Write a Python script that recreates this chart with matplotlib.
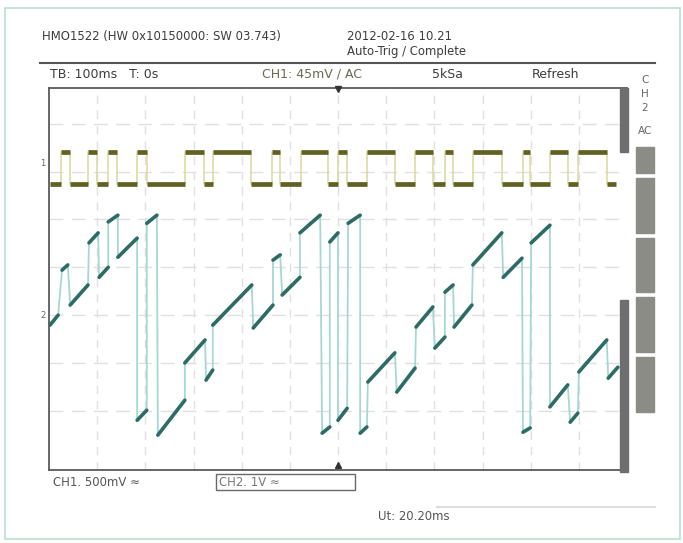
import matplotlib.pyplot as plt
from matplotlib.patches import Rectangle
import numpy as np

W, H = 683, 543

# CH1 square wave: toggle times (ms), starts low
ch1_toggles = [-576, -556, -518, -501, -477, -459, -417, -397, -318, -278,
               -259, -181, -138, -120, -77, -21, 0, 19, 60, 118,
               160, 197, 222, 239, 280, 341, 384, 399, 440, 478, 498, 558]
ch1_t_start, ch1_t_end = -598, 578
ch1_offset = 3.18          # div
ch1_high, ch1_low = 0.23, -0.44   # div relative to ch1 offset

# CH2 ramp pieces: (t0, v0, t1, v1) in ms / V (1 V/div)
ch2_pieces = [
    (-598, -0.21, -581, 0.00), (-573, 0.94, -561, 1.05), (-556, 0.21, -519, 0.63),
    (-517, 1.51, -498, 1.72), (-496, 0.79, -477, 1.00), (-477, 1.95, -457, 2.09),
    (-457, 1.21, -417, 1.61), (-417, -2.20, -397, -1.99), (-397, 1.92, -376, 2.09),
    (-374, -2.51, -318, -1.78), (-318, -1.00, -276, -0.52), (-274, -1.36, -260, -1.15),
    (-260, -0.21, -179, 0.63), (-176, -0.27, -135, 0.21), (-135, 1.15, -120, 1.26),
    (-116, 0.42, -79, 0.79), (-79, 1.72, -37, 2.09), (-33, -2.47, -17, -2.34),
    (-17, 1.53, 0, 1.72), (0, -2.20, 19, -1.95), (21, 1.92, 46, 2.09),
    (46, -2.47, 60, -2.34), (62, -1.40, 118, -0.79), (122, -1.61, 160, -1.11),
    (162, -0.25, 197, 0.17), (201, -0.69, 222, -0.46), (222, 0.48, 239, 0.63),
    (241, -0.25, 278, 0.21), (280, 1.05, 340, 1.72), (343, 0.79, 382, 1.19),
    (384, -2.45, 399, -2.36), (401, 1.51, 440, 1.88), (440, -1.92, 477, -1.46),
    (482, -2.24, 498, -2.05), (500, -1.19, 558, -0.52), (561, -1.32, 581, -1.09),
]

grid_t = [-500, -400, -300, -200, -100, 0, 100, 200, 300, 400, 500]
grid_v = [-2, -1, 0, 1, 2, 3, 4]

plt.rcParams['font.family'] = ['DejaVu Sans']


def fx(x):
    return x / W


def fy(y):
    return 1 - y / H


fig = plt.figure(figsize=(W / 100, H / 100), dpi=100)
fig.patch.set_facecolor('white')

# outer frame
fig.patches.append(Rectangle((fx(5), fy(539)), fx(675), 531 / H, transform=fig.transFigure,
                             fill=False, edgecolor='#b9e0cc', lw=1.2))

ax = fig.add_axes([fx(49), fy(470), fx(578), 382 / H])
ax.set_xlim(-600, 600)
ax.set_ylim(-3.24, 4.75)
ax.set_xticks([])
ax.set_yticks([])
for s in ['top', 'left', 'bottom']:
    ax.spines[s].set_color('#5a5a5a')
    ax.spines[s].set_linewidth(1.3)
ax.spines['right'].set_visible(False)

# grid
for t in grid_t:
    ax.axvline(t, color='#e0e0e0', lw=1.0, dashes=(6, 5), zorder=0)
for v in grid_v:
    ax.axhline(v, color='#e0e0e0', lw=1.0, dashes=(10, 6), zorder=0)

# CH1 trace
edges = [ch1_t_start] + ch1_toggles + [ch1_t_end]
for i in range(len(edges) - 1):
    lvl = ch1_high if i % 2 == 1 else ch1_low
    ax.plot([edges[i], edges[i + 1]], [ch1_offset + lvl] * 2,
            color='#626124', lw=3.4, solid_capstyle='butt', zorder=3)
for t in ch1_toggles:
    ax.plot([t, t], [ch1_offset + ch1_low, ch1_offset + ch1_high],
            color='#d9d89c', lw=1.1, zorder=2)

# CH2 trace
path_t, path_v = [], []
for t0, v0, t1, v1 in ch2_pieces:
    path_t += [t0, t1]
    path_v += [v0, v1]
ax.plot(path_t, path_v, color='#a6d8d3', lw=1.3, zorder=2)
for t0, v0, t1, v1 in ch2_pieces:
    ax.plot([t0, t1], [v0, v1], color='#2c6c65', lw=2.6, solid_capstyle='round', zorder=3)

# trigger markers
ax.plot([0], [4.72], marker='v', color='#333333', ms=5, clip_on=False, zorder=5)
ax.plot([0], [-3.13], marker='^', color='#333333', ms=5, clip_on=False, zorder=5)

# right scroll bar
fig.patches.append(Rectangle((fx(620), fy(152)), 8 / W, 64 / H, transform=fig.transFigure,
                             color='#6e6e6e'))
fig.patches.append(Rectangle((fx(620), fy(472)), 8 / W, 172 / H, transform=fig.transFigure,
                             color='#6e6e6e'))

# right panel
for i, ch in enumerate(['C', 'H', '2']):
    fig.text(fx(645), fy(80 + 14 * i), ch, fontsize=7.5, color='#666666', ha='center', va='center')
fig.text(fx(645), fy(131), 'AC', fontsize=7.5, color='#666666', ha='center', va='center')
for y0, y1 in [(147, 173), (178, 233), (238, 292), (297, 352), (357, 412)]:
    fig.patches.append(Rectangle((fx(636), fy(y1)), 18 / W, (y1 - y0) / H,
                                 transform=fig.transFigure, color='#8c8c86'))

# channel markers
fig.text(fx(43), fy(163), '1', fontsize=6, color='#666666', ha='center', va='center')
fig.text(fx(43), fy(315), '2', fontsize=6, color='#666666', ha='center', va='center')

# header
hc = '#3c3c3c'
fig.text(fx(42), fy(36), 'HMO1522 (HW 0x10150000: SW 03.743)', fontsize=8.4, color=hc, va='center')
fig.text(fx(347), fy(36), '2012-02-16 10.21', fontsize=8.4, color=hc, va='center')
fig.text(fx(347), fy(51), 'Auto-Trig / Complete', fontsize=8.4, color=hc, va='center')
fig.add_artist(plt.Line2D([fx(40), fx(655)], [fy(63), fy(63)], transform=fig.transFigure,
                          color='#555555', lw=1.5))
fig.text(fx(50), fy(74), 'TB: 100ms   T: 0s', fontsize=9, color=hc, va='center')
fig.text(fx(262), fy(74), 'CH1: 45mV / AC', fontsize=9, color='#6a6a52', va='center')
fig.text(fx(432), fy(74), '5kSa', fontsize=9, color=hc, va='center')
fig.text(fx(532), fy(74), 'Refresh', fontsize=9, color=hc, va='center')

# footer
fig.text(fx(53), fy(482), 'CH1. 500mV ≈', fontsize=8.4, color='#555555', va='center')
fig.patches.append(Rectangle((fx(216), fy(490)), 139 / W, 16 / H, transform=fig.transFigure,
                             fill=False, edgecolor='#6a6a6a', lw=1.0))
fig.text(fx(219), fy(482), 'CH2. 1V ≈', fontsize=8.4, color='#777777', va='center')
fig.add_artist(plt.Line2D([fx(437), fx(655)], [fy(507), fy(507)], transform=fig.transFigure,
                          color='#dddddd', lw=1.5))
fig.text(fx(378), fy(517), 'Ut: 20.20ms', fontsize=8.4, color='#555555', va='center')

fig.savefig('out.png', dpi=100)
